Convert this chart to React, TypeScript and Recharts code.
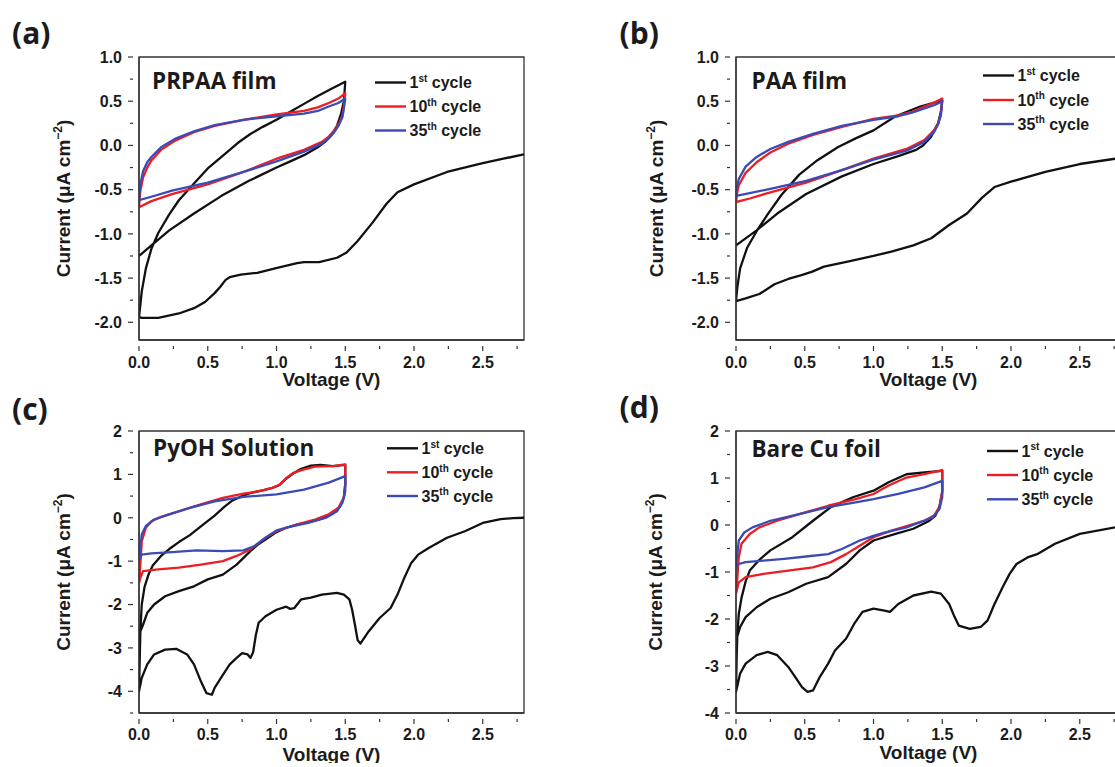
import React from "react";
import { LineChart, Line, XAxis, YAxis, ReferenceArea } from "recharts";

type Pt = [number, number];

const cycleNums = ["1", "10", "35"];
const cycleSups = ["st", "th", "th"];
const cycleColors = ["#111111", "#ee1d24", "#3a4bb6"];
const panelTags = ["(a)", "(b)", "(c)", "(d)"];
const panelTitles = ["PRPAA film", "PAA film", "PyOH Solution", "Bare Cu foil"];

const voltageTicks = [0, 0.25, 0.5, 0.75, 1, 1.25, 1.5, 1.75, 2, 2.25, 2.5, 2.75];
const filmCurrentTicks = [-2, -1.75, -1.5, -1.25, -1, -0.75, -0.5, -0.25, 0, 0.25, 0.5, 0.75, 1];
const pyohCurrentTicks = [-4.5, -4, -3.5, -3, -2.5, -2, -1.5, -1, -0.5, 0, 0.5, 1, 1.5, 2];
const cuCurrentTicks = [-4, -3.5, -3, -2.5, -2, -1.5, -1, -0.5, 0, 0.5, 1, 1.5, 2];

// (a) PRPAA film  [voltage V, current uA cm-2]
const prpaaCycle1: Pt[] = [
  [2.8, -0.1], [2.65, -0.15], [2.5, -0.2], [2.24, -0.3], [2.0, -0.44], [1.88, -0.53], [1.8, -0.66],
  [1.7, -0.87], [1.59, -1.08], [1.51, -1.21], [1.44, -1.27], [1.31, -1.32], [1.2, -1.32], [1.15, -1.33],
  [0.99, -1.39], [0.86, -1.44], [0.74, -1.46], [0.66, -1.49], [0.63, -1.52], [0.59, -1.6], [0.55, -1.67],
  [0.48, -1.77], [0.4, -1.84], [0.29, -1.9], [0.14, -1.95], [0.02, -1.95], [0.0, -1.94],
  [0.01, -1.8], [0.02, -1.65], [0.05, -1.39], [0.09, -1.17], [0.14, -0.99], [0.22, -0.78], [0.29, -0.62],
  [0.4, -0.43], [0.5, -0.26], [0.6, -0.13], [0.66, -0.05], [0.72, 0.03], [0.81, 0.13], [0.9, 0.21],
  [1.0, 0.29], [1.1, 0.38], [1.2, 0.47], [1.3, 0.56], [1.4, 0.64], [1.5, 0.72],
  [1.49, 0.5], [1.47, 0.36], [1.44, 0.22], [1.4, 0.12], [1.36, 0.05], [1.3, -0.02], [1.2, -0.11],
  [1.1, -0.18], [1.0, -0.25], [0.8, -0.4], [0.6, -0.57], [0.4, -0.77], [0.22, -0.96], [0.09, -1.13], [0.0, -1.25],
];
const prpaaCycle10: Pt[] = [
  [0, -0.7], [0.01, -0.51], [0.03, -0.36], [0.06, -0.25], [0.09, -0.17], [0.16, -0.05], [0.27, 0.06],
  [0.4, 0.15], [0.55, 0.22], [0.76, 0.29], [1.0, 0.35], [1.2, 0.39], [1.3, 0.43], [1.38, 0.48], [1.45, 0.53],
  [1.5, 0.59], [1.49, 0.45], [1.48, 0.34], [1.45, 0.24], [1.42, 0.17], [1.38, 0.1], [1.33, 0.04], [1.2, -0.05],
  [1.0, -0.15], [0.76, -0.3], [0.5, -0.44], [0.24, -0.55], [0.09, -0.63], [0, -0.7],
];
const prpaaCycle35: Pt[] = [
  [0, -0.62], [0.01, -0.44], [0.03, -0.29], [0.06, -0.19], [0.09, -0.13], [0.16, -0.02], [0.27, 0.08],
  [0.4, 0.16], [0.55, 0.23], [0.76, 0.29], [1.0, 0.33], [1.2, 0.36], [1.3, 0.39], [1.38, 0.44], [1.45, 0.48],
  [1.5, 0.53], [1.49, 0.42], [1.48, 0.32], [1.45, 0.22], [1.42, 0.15], [1.38, 0.08], [1.33, 0.02], [1.2, -0.07],
  [1.0, -0.18], [0.76, -0.3], [0.5, -0.42], [0.24, -0.51], [0.09, -0.58], [0, -0.62],
];

// (b) PAA film
const paaCycle1: Pt[] = [
  [2.8, -0.14], [2.76, -0.15], [2.5, -0.21], [2.25, -0.3], [2.0, -0.41], [1.88, -0.47], [1.79, -0.59],
  [1.68, -0.77], [1.55, -0.9], [1.42, -1.05], [1.29, -1.13], [1.13, -1.2], [1.0, -1.25], [0.82, -1.31],
  [0.64, -1.37], [0.55, -1.43], [0.47, -1.47], [0.38, -1.51], [0.28, -1.57], [0.17, -1.68], [0.07, -1.73], [0.0, -1.76],
  [0.01, -1.6], [0.03, -1.39], [0.08, -1.16], [0.15, -0.97], [0.23, -0.78], [0.33, -0.56], [0.46, -0.33],
  [0.59, -0.17], [0.74, -0.02], [0.87, 0.08], [1.0, 0.17], [1.16, 0.33], [1.34, 0.44], [1.5, 0.51],
  [1.49, 0.38], [1.47, 0.25], [1.42, 0.1], [1.36, 0.0], [1.31, -0.05], [1.18, -0.12], [1.0, -0.21],
  [0.77, -0.35], [0.51, -0.55], [0.3, -0.77], [0.15, -0.96], [0.0, -1.13],
];
const paaCycle10: Pt[] = [
  [0, -0.64], [0.01, -0.52], [0.02, -0.45], [0.07, -0.31], [0.15, -0.19], [0.25, -0.08], [0.38, 0.02],
  [0.56, 0.12], [0.77, 0.21], [1.0, 0.3], [1.18, 0.34], [1.28, 0.38], [1.37, 0.44], [1.45, 0.49], [1.5, 0.53],
  [1.49, 0.36], [1.47, 0.25], [1.44, 0.17], [1.37, 0.06], [1.24, -0.04], [1.0, -0.15], [0.77, -0.28],
  [0.51, -0.42], [0.25, -0.53], [0.1, -0.6], [0, -0.64],
];
const paaCycle35: Pt[] = [
  [0, -0.57], [0.01, -0.45], [0.02, -0.38], [0.07, -0.24], [0.15, -0.13], [0.25, -0.04], [0.38, 0.04],
  [0.56, 0.13], [0.77, 0.22], [1.0, 0.29], [1.18, 0.33], [1.28, 0.37], [1.37, 0.42], [1.45, 0.46], [1.5, 0.5],
  [1.49, 0.34], [1.47, 0.24], [1.44, 0.15], [1.37, 0.04], [1.24, -0.06], [1.0, -0.16], [0.77, -0.28],
  [0.51, -0.4], [0.25, -0.49], [0.1, -0.54], [0, -0.57],
];

// (c) PyOH solution
const pyohCycle1: Pt[] = [
  [2.8, 0.0], [2.72, -0.01], [2.63, -0.03], [2.5, -0.12], [2.37, -0.31], [2.24, -0.46], [2.11, -0.69],
  [2.03, -0.85], [1.98, -1.04], [1.93, -1.38], [1.88, -1.77], [1.83, -2.08], [1.75, -2.31], [1.67, -2.62],
  [1.61, -2.9], [1.59, -2.82], [1.57, -2.46], [1.55, -2.12], [1.53, -1.88], [1.49, -1.77], [1.44, -1.73],
  [1.33, -1.77], [1.25, -1.84], [1.18, -1.88], [1.13, -2.08], [1.1, -2.1], [1.07, -2.05], [1.0, -2.12],
  [0.92, -2.27], [0.87, -2.42], [0.85, -2.7], [0.83, -3.1], [0.81, -3.23], [0.79, -3.15], [0.75, -3.12],
  [0.71, -3.23], [0.66, -3.38], [0.61, -3.62], [0.55, -3.92], [0.53, -4.08], [0.49, -4.04], [0.45, -3.77],
  [0.4, -3.38], [0.35, -3.15], [0.27, -3.02], [0.19, -3.04], [0.11, -3.15], [0.06, -3.38], [0.02, -3.69], [0.0, -4.0],
  [0.005, -3.3], [0.01, -2.6], [0.02, -2.0], [0.04, -1.6], [0.07, -1.3], [0.1, -1.1], [0.16, -0.88],
  [0.22, -0.72], [0.29, -0.56], [0.37, -0.4], [0.45, -0.2], [0.55, 0.05], [0.62, 0.25], [0.68, 0.4],
  [0.75, 0.5], [0.81, 0.57], [0.9, 0.63], [0.97, 0.69], [1.02, 0.75], [1.07, 0.9], [1.12, 1.02],
  [1.18, 1.13], [1.25, 1.2], [1.32, 1.22], [1.41, 1.19], [1.5, 1.22],
  [1.5, 0.78], [1.49, 0.47], [1.46, 0.25], [1.41, 0.1], [1.33, -0.02], [1.25, -0.09], [1.15, -0.16],
  [1.07, -0.23], [1.0, -0.33], [0.92, -0.5], [0.86, -0.63], [0.81, -0.77], [0.71, -1.08], [0.61, -1.31],
  [0.5, -1.42], [0.4, -1.58], [0.29, -1.69], [0.19, -1.81], [0.11, -2.0], [0.06, -2.19], [0.03, -2.46], [0.0, -2.7],
];
const pyohCycle10: Pt[] = [
  [0, -1.5], [0.005, -1.3], [0.01, -1.08], [0.02, -0.54], [0.05, -0.23], [0.09, -0.08], [0.16, 0.02],
  [0.29, 0.15], [0.45, 0.31], [0.61, 0.46], [0.75, 0.55], [0.81, 0.58], [0.9, 0.63], [0.97, 0.69],
  [1.02, 0.76], [1.07, 0.91], [1.12, 1.03], [1.18, 1.1], [1.28, 1.18], [1.41, 1.19], [1.5, 1.23],
  [1.5, 0.77], [1.49, 0.46], [1.45, 0.23], [1.38, 0.08], [1.28, -0.04], [1.15, -0.15], [1.0, -0.31],
  [0.92, -0.46], [0.81, -0.73], [0.71, -0.88], [0.61, -1.0], [0.45, -1.08], [0.29, -1.15], [0.14, -1.19],
  [0.03, -1.23], [0.01, -1.38], [0, -1.5],
];
const pyohCycle35: Pt[] = [
  [0, -0.96], [0.01, -0.69], [0.02, -0.38], [0.05, -0.19], [0.11, -0.04], [0.22, 0.08], [0.37, 0.23],
  [0.55, 0.38], [0.76, 0.48], [1.0, 0.54], [1.2, 0.65], [1.38, 0.81], [1.5, 0.96],
  [1.5, 0.62], [1.48, 0.35], [1.44, 0.15], [1.36, 0.0], [1.23, -0.12], [1.07, -0.23], [1.0, -0.29],
  [0.92, -0.46], [0.84, -0.65], [0.76, -0.75], [0.61, -0.77], [0.42, -0.75], [0.24, -0.79], [0.09, -0.82],
  [0.02, -0.85], [0, -0.96],
];

// (d) bare Cu foil
const cuCycle1: Pt[] = [
  [2.8, -0.04], [2.76, -0.05], [2.5, -0.19], [2.32, -0.4], [2.19, -0.62], [2.12, -0.69], [2.04, -0.83],
  [1.99, -1.04], [1.94, -1.32], [1.88, -1.68], [1.83, -2.03], [1.78, -2.17], [1.7, -2.21], [1.62, -2.14],
  [1.59, -1.96], [1.55, -1.68], [1.49, -1.46], [1.42, -1.42], [1.29, -1.5], [1.18, -1.68], [1.12, -1.85],
  [1.08, -1.82], [1.0, -1.78], [0.92, -1.85], [0.86, -2.1], [0.8, -2.42], [0.72, -2.67], [0.67, -2.95],
  [0.61, -3.23], [0.56, -3.52], [0.52, -3.55], [0.48, -3.45], [0.43, -3.23], [0.38, -3.02], [0.3, -2.77],
  [0.23, -2.7], [0.15, -2.77], [0.07, -2.95], [0.03, -3.16], [0.0, -3.55],
  [0.005, -2.8], [0.01, -2.3], [0.02, -1.9], [0.04, -1.55], [0.07, -1.2], [0.1, -0.97], [0.17, -0.74],
  [0.25, -0.54], [0.41, -0.26], [0.56, 0.09], [0.69, 0.38], [0.85, 0.59], [1.0, 0.73], [1.11, 0.91],
  [1.24, 1.08], [1.37, 1.12], [1.5, 1.15],
  [1.5, 0.7], [1.48, 0.4], [1.45, 0.2], [1.4, 0.08], [1.29, -0.08], [1.16, -0.19], [1.0, -0.33],
  [0.9, -0.54], [0.8, -0.83], [0.67, -1.11], [0.51, -1.25], [0.38, -1.43], [0.25, -1.57], [0.15, -1.75],
  [0.07, -1.96], [0.03, -2.17], [0.0, -2.46],
];
const cuCycle10: Pt[] = [
  [0, -1.46], [0.01, -1.11], [0.02, -0.69], [0.04, -0.4], [0.1, -0.19], [0.17, -0.05], [0.3, 0.09],
  [0.46, 0.23], [0.67, 0.41], [0.87, 0.55], [1.0, 0.66], [1.11, 0.84], [1.24, 1.01], [1.37, 1.08], [1.5, 1.17],
  [1.5, 0.73], [1.48, 0.38], [1.44, 0.2], [1.37, 0.09], [1.26, -0.01], [1.13, -0.12], [1.0, -0.26],
  [0.9, -0.44], [0.8, -0.62], [0.69, -0.79], [0.56, -0.9], [0.38, -0.97], [0.2, -1.04], [0.07, -1.11],
  [0.02, -1.22], [0, -1.46],
];
const cuCycle35: Pt[] = [
  [0, -0.93], [0.01, -0.62], [0.02, -0.33], [0.06, -0.16], [0.12, -0.05], [0.25, 0.09], [0.46, 0.23],
  [0.67, 0.38], [0.87, 0.48], [1.0, 0.55], [1.18, 0.66], [1.37, 0.8], [1.5, 0.94],
  [1.5, 0.59], [1.48, 0.34], [1.43, 0.16], [1.34, 0.06], [1.24, -0.05], [1.08, -0.16], [1.0, -0.23],
  [0.9, -0.33], [0.77, -0.51], [0.67, -0.62], [0.51, -0.67], [0.35, -0.72], [0.2, -0.76], [0.07, -0.79],
  [0.02, -0.83], [0, -0.93],
];

const AXIS = "#333333";
const INK = "#1b1b1b";
const SANS = "'Liberation Sans', Arial, sans-serif";
const TITLE_FONT = "'Open Sans', sans-serif";

const PLOT_L = 139;
const PLOT_T = 57;
const PLOT_R = 524;
const CHART_W = 560;
const XAXIS_H = 50;

const toPoints = (arr: Pt[]) => arr.map(([v, i]) => ({ v, i }));

type PanelProps = {
  idx: number;
  x: number;
  y: number;
  h: number;
  series: Pt[][];
  yDomain: [number, number];
  yTicks: number[];
  yStep: number;
  yDigits: number;
  tagX: number;
  tagY: number;
  titleX: number;
  titleY: number;
  legendX: number;
  legendY: number[];
  yTitleX: number;
  xTitleDy: number;
  xLabelDy: number;
};

function Panel(p: PanelProps) {
  const plotB = p.h - XAXIS_H;
  const cy = (PLOT_T + plotB) / 2;
  const cx = (PLOT_L + PLOT_R) / 2;

  const XTick = (t: any) => {
    const v = t.payload.value;
    const major = Math.abs(v * 2 - Math.round(v * 2)) < 1e-6;
    return (
      <g>
        <line x1={t.x} y1={t.y} x2={t.x} y2={t.y + (major ? 5 : 3)} stroke={AXIS} strokeWidth={1.2} />
        {major && (
          <text x={t.x} y={t.y + p.xLabelDy} textAnchor="middle" fontFamily={SANS} fontWeight="bold" fontSize={16} fill={INK}>
            {v.toFixed(1)}
          </text>
        )}
      </g>
    );
  };

  const YTick = (t: any) => {
    const v = t.payload.value;
    const r = v / p.yStep;
    const major = Math.abs(r - Math.round(r)) < 1e-6;
    return (
      <g>
        <line x1={t.x} y1={t.y} x2={t.x - (major ? 5 : 3)} y2={t.y} stroke={AXIS} strokeWidth={1.2} />
        {major && (
          <text x={t.x - 11} y={t.y + 5.8} textAnchor="end" fontFamily={SANS} fontWeight="bold" fontSize={16} fill={INK}>
            {v.toFixed(p.yDigits)}
          </text>
        )}
      </g>
    );
  };

  return (
    <div style={{ position: "absolute", left: p.x, top: p.y }}>
      <LineChart width={CHART_W} height={p.h} margin={{ top: PLOT_T, right: CHART_W - PLOT_R, bottom: 0, left: 0 }}>
        <XAxis
          type="number"
          dataKey="v"
          domain={[0, 2.8]}
          ticks={voltageTicks}
          interval={0}
          allowDataOverflow
          height={XAXIS_H}
          tickLine={false}
          tickMargin={0}
          axisLine={{ stroke: AXIS, strokeWidth: 1.3 }}
          tick={XTick}
        />
        <YAxis
          type="number"
          domain={p.yDomain}
          ticks={p.yTicks}
          interval={0}
          allowDataOverflow
          width={PLOT_L}
          tickLine={false}
          tickMargin={0}
          axisLine={{ stroke: AXIS, strokeWidth: 1.3 }}
          tick={YTick}
        />
        {p.series.map((s, k) => (
          <Line
            key={k}
            data={toPoints(s)}
            dataKey="i"
            name={`${cycleNums[k]}${cycleSups[k]} cycle`}
            type="linear"
            stroke={cycleColors[k]}
            strokeWidth={2.3}
            strokeLinejoin="round"
            dot={false}
            activeDot={false}
            isAnimationActive={false}
          />
        ))}
        <ReferenceArea
          x1={0}
          x2={2.8}
          y1={p.yDomain[0]}
          y2={p.yDomain[1]}
          fill="none"
          stroke={AXIS}
          strokeWidth={1.3}
          ifOverflow="visible"
        />
        <text x={p.tagX} y={p.tagY} fontFamily={TITLE_FONT} fontWeight="bold" fontSize={30} fill={INK}>
          {panelTags[p.idx]}
        </text>
        <text x={p.titleX} y={p.titleY} fontFamily={TITLE_FONT} fontWeight="bold" fontSize={22.5} fill={INK}>
          {panelTitles[p.idx]}
        </text>
        {cycleNums.map((n, k) => (
          <g key={n}>
            <line x1={p.legendX} x2={p.legendX + 31} y1={p.legendY[k]} y2={p.legendY[k]} stroke={cycleColors[k]} strokeWidth={2.4} />
            <text x={p.legendX + 34.5} y={p.legendY[k] + 5.8} fontFamily={SANS} fontWeight="bold" fontSize={16} fill={INK}>
              <tspan>{n}</tspan>
              <tspan dy={-6.5} fontSize={10}>{cycleSups[k]}</tspan>
              <tspan dy={6.5}> cycle</tspan>
            </text>
          </g>
        ))}
        <text x={cx} y={plotB + p.xTitleDy} textAnchor="middle" fontFamily={SANS} fontWeight="bold" fontSize={19} fill={INK}>
          Voltage (V)
        </text>
        <text
          x={p.yTitleX}
          y={cy}
          transform={`rotate(-90 ${p.yTitleX} ${cy})`}
          textAnchor="middle"
          fontFamily={SANS}
          fontWeight="bold"
          fontSize={19}
          fill={INK}
        >
          <tspan>Current (μA cm</tspan>
          <tspan dy={-8} fontSize={12}>−2</tspan>
          <tspan dy={8}>)</tspan>
        </text>
      </LineChart>
    </div>
  );
}

export default function App() {
  return (
    <div
      style={{
        position: "absolute",
        left: 0,
        top: 0,
        width: 1115,
        height: 767,
        overflow: "hidden",
        background: "#ffffff",
      }}
    >
      <Panel
        idx={0} x={0} y={0} h={390}
        series={[prpaaCycle1, prpaaCycle10, prpaaCycle35]}
        yDomain={[-2.2, 1]} yTicks={filmCurrentTicks} yStep={0.5} yDigits={1}
        tagX={12} tagY={44} titleX={152} titleY={89}
        legendX={375} legendY={[82.5, 106.5, 130.5]}
        yTitleX={69.5} xTitleDy={45.5} xLabelDy={21.5}
      />
      <Panel
        idx={1} x={597} y={0} h={390}
        series={[paaCycle1, paaCycle10, paaCycle35]}
        yDomain={[-2.2, 1]} yTicks={filmCurrentTicks} yStep={0.5} yDigits={1}
        tagX={22.5} tagY={44} titleX={154.5} titleY={88.5}
        legendX={386} legendY={[75.5, 100, 124]}
        yTitleX={66} xTitleDy={45.5} xLabelDy={21.5}
      />
      <Panel
        idx={2} x={0} y={374} h={389}
        series={[pyohCycle1, pyohCycle10, pyohCycle35]}
        yDomain={[-4.5, 2]} yTicks={pyohCurrentTicks} yStep={1} yDigits={0}
        tagX={12} tagY={45.5} titleX={153} titleY={82}
        legendX={387} legendY={[74.3, 98.3, 122]}
        yTitleX={69.5} xTitleDy={47.5} xLabelDy={21}
      />
      <Panel
        idx={3} x={597} y={374} h={389}
        series={[cuCycle1, cuCycle10, cuCycle35]}
        yDomain={[-4, 2]} yTicks={cuCurrentTicks} yStep={1} yDigits={0}
        tagX={22.5} tagY={44} titleX={154.5} titleY={82.5}
        legendX={390} legendY={[77, 101, 125.3]}
        yTitleX={65} xTitleDy={46} xLabelDy={21}
      />
    </div>
  );
}
